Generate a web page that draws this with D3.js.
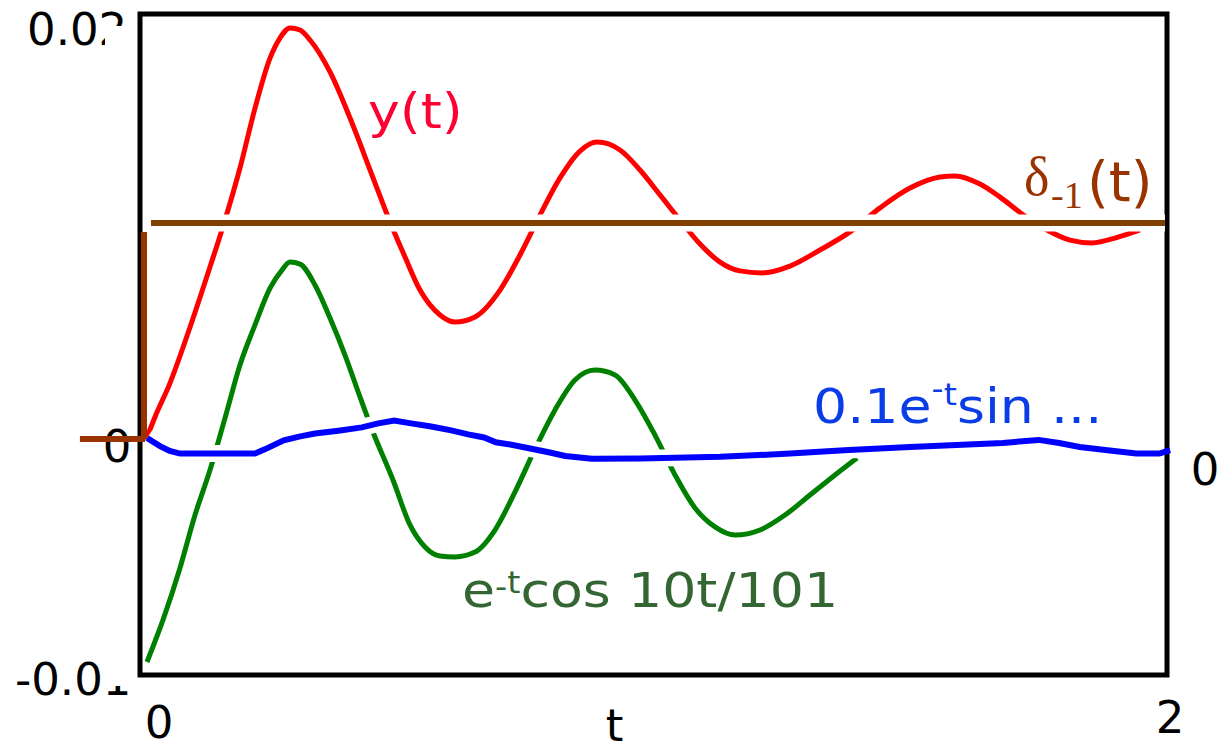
<!DOCTYPE html>
<html>
<head>
<meta charset="utf-8">
<script src="https://cdn.jsdelivr.net/npm/d3@7"></script>
<style>
  html, body { margin: 0; padding: 0; background: #fff; }
  svg { display: block; }
</style>
</head>
<body>
<svg id="chart"></svg>
<script>
// Axis ticks
const tTicks = [0, 2];
const yTicks = [0.02, 0, -0.01];

// y(t) – red response
const redT = [0.0117, 0.0292, 0.0584, 0.0935, 0.1363, 0.1577, 0.1947, 0.2240, 0.2532, 0.2726, 0.2921, 0.3116, 0.3311, 0.3700, 0.4090, 0.4518, 0.4869, 0.5161, 0.5453, 0.5842, 0.6134, 0.6524, 0.7011, 0.7400, 0.7790, 0.8179, 0.8569, 0.8900, 0.9348, 0.9737, 1.0127, 1.0516, 1.0906, 1.1295, 1.1685, 1.2113, 1.2658, 1.3243, 1.3827, 1.4411, 1.4995, 1.5579, 1.5871, 1.6358, 1.6748, 1.7235, 1.7663, 1.8111, 1.8540, 1.8987, 1.9474];
const redV = [0.00067, 0.00171, 0.00325, 0.00552, 0.00852, 0.01006, 0.01301, 0.01573, 0.01800, 0.01891, 0.01937, 0.01927, 0.01882, 0.01737, 0.01528, 0.01269, 0.01056, 0.00897, 0.00747, 0.00634, 0.00602, 0.00625, 0.00747, 0.00906, 0.01088, 0.01256, 0.01378, 0.01419, 0.01383, 0.01292, 0.01179, 0.01065, 0.00956, 0.00874, 0.00834, 0.00825, 0.00856, 0.00929, 0.01011, 0.01120, 0.01210, 0.01260, 0.01265, 0.01228, 0.01169, 0.01083, 0.01020, 0.00974, 0.00961, 0.00983, 0.01020];

// e^-t cos 10t/101 – green
const greenT = [0.0136, 0.0448, 0.0779, 0.1071, 0.1363, 0.1655, 0.1947, 0.2240, 0.2532, 0.2765, 0.2921, 0.3116, 0.3408, 0.3700, 0.3992, 0.4284, 0.4537, 0.4927, 0.5258, 0.5550, 0.5842, 0.6134, 0.6524, 0.6913, 0.7303, 0.7731, 0.8082, 0.8471, 0.8861, 0.9250, 0.9640, 1.0029, 1.0419, 1.0808, 1.1198, 1.1587, 1.2074, 1.2561, 1.3048, 1.3535, 1.3963];
const greenV = [-0.00941, -0.00750, -0.00514, -0.00274, -0.00070, 0.00166, 0.00407, 0.00589, 0.00756, 0.00838, 0.00874, 0.00865, 0.00770, 0.00620, 0.00452, 0.00262, 0.00103, -0.00115, -0.00319, -0.00419, -0.00460, -0.00464, -0.00442, -0.00342, -0.00169, 0.00044, 0.00203, 0.00339, 0.00384, 0.00362, 0.00248, 0.00089, -0.00092, -0.00242, -0.00328, -0.00365, -0.00342, -0.00274, -0.00183, -0.00092, -0.00015];

// 0.1e^-t sin ... – blue
const blueT = [0.014, 0.023, 0.039, 0.058, 0.078, 0.224, 0.243, 0.280, 0.312, 0.341, 0.390, 0.432, 0.464, 0.495, 0.528, 0.567, 0.606, 0.639, 0.670, 0.693, 0.721, 0.760, 0.798, 0.828, 0.880, 0.974, 1.130, 1.266, 1.380, 1.500, 1.680, 1.750, 1.790, 1.830, 1.880, 1.940, 1.985, 2.006];
const blueV = [0.00076, 0.00062, 0.00039, 0.00017, 0.00005, 0.00005, 0.00024, 0.00065, 0.00083, 0.00096, 0.00110, 0.00124, 0.00142, 0.00155, 0.00142, 0.00128, 0.00110, 0.00092, 0.00078, 0.00056, 0.00046, 0.00028, 0.00010, -0.00006, -0.00018, -0.00017, -0.00010, 0.00005, 0.00021, 0.00035, 0.00053, 0.00067, 0.00053, 0.00035, 0.00021, 0.00005, 0.00005, 0.00021];

// δ-1(t) – unit step (brown), drawn as three pieces
const stepLowT = [-0.117, 0.010];
const stepLowV = [0.00071, 0.00071];
const stepRiseT = [0.0078, 0.0078];
const stepRiseV = [0.00071, 0.01011];
const stepHighT = [0.0214, 1.996];
const stepHighV = [0.01051, 0.01051];

const W = 1231, H = 746;
const margin = { top: 14, right: 64, bottom: 71, left: 140 };
const width = W - margin.left - margin.right;
const height = H - margin.top - margin.bottom;

const svg = d3.select('#chart')
    .attr('width', W)
    .attr('height', H);

const x = d3.scaleLinear().domain([0, 2]).range([margin.left, margin.left + width]);
const y = d3.scaleLinear().domain([-0.01, 0.02]).range([margin.top + height, margin.top]);

const zip = (ts, vs) => ts.map((t, i) => ({ t: t, v: vs[i] }));
const fmt = v => d3.format('.2f')(v).replace('\u2212', '-');

const smooth = d3.line().x(d => x(d.t)).y(d => y(d.v)).curve(d3.curveMonotoneX);
const straight = d3.line().x(d => x(d.t)).y(d => y(d.v));

// Tick labels on the left (partly hidden by the white strip, like the original)
svg.append('text')
    .attr('x', 27).attr('y', y(0.02) + 31)
    .attr('font-family', 'DejaVu Sans').attr('font-size', 45)
    .text(fmt(yTicks[0]));
svg.append('text')
    .attr('x', 15).attr('y', y(-0.01) + 20)
    .attr('font-family', 'DejaVu Sans').attr('font-size', 45)
    .text(fmt(yTicks[2]));

svg.append('rect')
    .attr('x', 105).attr('y', 26)
    .attr('width', 32).attr('height', 660)
    .attr('fill', '#fff');

svg.append('text')
    .attr('x', 117).attr('y', y(yTicks[1]) + 7)
    .attr('text-anchor', 'middle')
    .attr('font-family', 'DejaVu Sans').attr('font-size', 45)
    .text(yTicks[1]);

// right side zero label
svg.append('text')
    .attr('x', 1205).attr('y', y(0) + 30)
    .attr('text-anchor', 'middle')
    .attr('font-family', 'DejaVu Sans').attr('font-size', 45)
    .text('0');

// x tick labels and axis title
svg.append('text')
    .attr('x', x(tTicks[0]) + 19).attr('y', y(-0.01) + 63)
    .attr('text-anchor', 'middle')
    .attr('font-family', 'DejaVu Sans').attr('font-size', 45)
    .text(tTicks[0]);
svg.append('text')
    .attr('x', x(tTicks[1]) + 3).attr('y', y(-0.01) + 58)
    .attr('text-anchor', 'middle')
    .attr('font-family', 'DejaVu Sans').attr('font-size', 45)
    .text(tTicks[1]);
svg.append('text')
    .attr('x', x(0.924)).attr('y', 741)
    .attr('text-anchor', 'middle')
    .attr('font-family', 'DejaVu Sans').attr('font-size', 45)
    .text('t');

// Curves
svg.append('path')
    .datum(zip(greenT, greenV))
    .attr('fill', 'none')
    .attr('stroke', '#008000')
    .attr('stroke-width', 5)
    .attr('d', smooth);

svg.append('path')
    .datum(zip(redT, redV))
    .attr('fill', 'none')
    .attr('stroke', '#ff0000')
    .attr('stroke-width', 5)
    .attr('d', smooth);

// white halo under the blue trace (cuts the lines it crosses)
svg.append('path')
    .datum(zip(blueT, blueV))
    .attr('fill', 'none')
    .attr('stroke', '#fff')
    .attr('stroke-width', 17)
    .attr('d', straight);

// plot frame
svg.append('rect')
    .attr('x', margin.left).attr('y', margin.top)
    .attr('width', width).attr('height', height)
    .attr('fill', 'none')
    .attr('stroke', '#000')
    .attr('stroke-width', 5);

svg.append('path')
    .datum(zip(blueT, blueV))
    .attr('fill', 'none')
    .attr('stroke', '#0000ff')
    .attr('stroke-width', 6)
    .attr('d', straight);

// step function with its own halo
svg.append('path')
    .datum(zip(stepHighT, stepHighV))
    .attr('fill', 'none')
    .attr('stroke', '#fff')
    .attr('stroke-width', 17)
    .attr('d', straight);
svg.append('path')
    .datum(zip(stepHighT, stepHighV))
    .attr('fill', 'none')
    .attr('stroke', '#804000')
    .attr('stroke-width', 6)
    .attr('d', straight);
svg.append('path')
    .datum(zip(stepRiseT, stepRiseV))
    .attr('fill', 'none')
    .attr('stroke', '#993300')
    .attr('stroke-width', 6)
    .attr('d', straight);
svg.append('path')
    .datum(zip(stepLowT, stepLowV))
    .attr('fill', 'none')
    .attr('stroke', '#993300')
    .attr('stroke-width', 6)
    .attr('d', straight);

// Curve labels (slightly wide lettering, as in the original)
function label(px, py, color) {
    return svg.append('text')
        .attr('transform', `translate(${px},${py}) scale(1.12,1)`)
        .attr('font-family', 'DejaVu Sans')
        .attr('font-size', 48)
        .attr('fill', color);
}

label(368, 128, '#ff0033').text('y(t)');

const g = label(462, 607, '#336633');
g.append('tspan').text('e');
g.append('tspan').attr('font-size', 30).attr('dy', -10).text('-');
g.append('tspan').attr('font-size', 30).attr('dy', -4).text('t');
g.append('tspan').attr('dy', 14).text('cos 10t/101');

const b = label(813, 423, '#0a3de8');
b.append('tspan').text('0.1e');
b.append('tspan').attr('font-size', 30).attr('dy', -24).text('-');
b.append('tspan').attr('font-size', 30).attr('dy', 6).text('t');
b.append('tspan').attr('dy', 18).text('sin ...');

// δ-1(t)
svg.append('text')
    .attr('x', 1024).attr('y', 195)
    .attr('font-family', 'Liberation Serif').attr('font-size', 54)
    .attr('fill', '#993300')
    .text('δ');
svg.append('text')
    .attr('x', 1051).attr('y', 208)
    .attr('font-family', 'Liberation Serif').attr('font-size', 38)
    .attr('fill', '#993300')
    .text('-1');
svg.append('text')
    .attr('x', 1087).attr('y', 201)
    .attr('font-family', 'DejaVu Sans').attr('font-size', 56)
    .attr('fill', '#993300')
    .text('(t)');
</script>
</body>
</html>
